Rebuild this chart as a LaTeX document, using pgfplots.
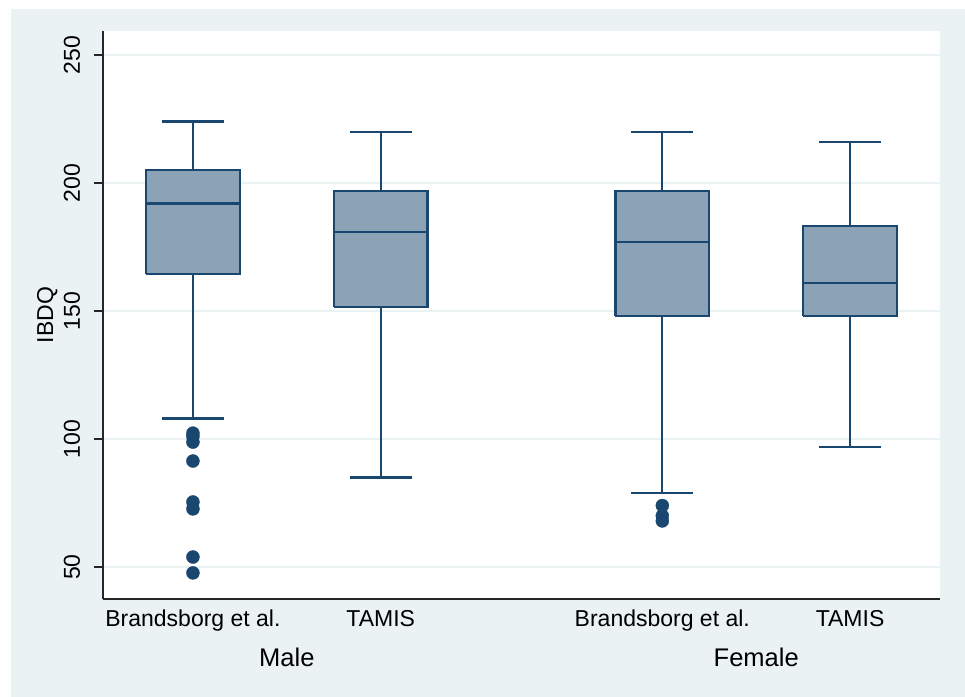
\documentclass[border=0pt]{standalone}
\usepackage{fontspec}
\setmainfont{Liberation Sans}
\usepackage{pgfplots}
\pgfplotsset{compat=1.18}

\definecolor{statanavy}{RGB}{26,71,111}
\definecolor{boxfill}{RGB}{140,163,183}
\definecolor{bgblue}{RGB}{234,242,243}

\newcommand{\lblfont}{\fontsize{23bp}{27bp}\selectfont}
\newcommand{\grpfont}{\fontsize{25.5bp}{29bp}\selectfont}

\pgfplotsset{
  boxbody/.style={draw=statanavy, fill=boxfill, line width=2.3bp, mark=none},
  boxline/.style={draw=statanavy, line width=2.3bp, mark=none},
  outlier/.style={only marks, mark=*, mark size=6.5bp,
    mark options={fill=statanavy, draw=statanavy}},
}

\begin{document}
\begin{tikzpicture}
% graph region background
\fill[white] (-103bp,-98bp) rectangle (862bp,599bp);
\fill[bgblue] (-92bp,-98bp) rectangle (862bp,590bp);
\begin{axis}[
  scale only axis,
  width=837bp, height=568bp,
  xmin=0.521, xmax=4.979,
  ymin=37.5, ymax=259.4,
  axis background/.style={fill=white},
  axis x line*=bottom, axis y line*=left,
  axis line style={line width=1.4bp, color=black!85},
  xtick={1,2,3.5,4.5},
  xticklabels={Brandsborg et al., TAMIS, Brandsborg et al., TAMIS},
  x tick style={draw=none},
  ytick={50,100,150,200,250},
  tick align=outside, major tick length=9bp,
  y tick style={line width=1.4bp, color=black!85},
  ymajorgrids,
  grid style={line width=1.5bp, color=bgblue},
  /pgf/number format/assume math mode=true,
  tick label style={font=\lblfont},
  xticklabel style={anchor=base, yshift=-18bp, inner sep=0pt},
  yticklabel style={xshift=-14bp, rotate=90, anchor=base, inner sep=0pt},
  ylabel={IBDQ},
  ylabel style={font=\lblfont, yshift=3bp},
  clip=false,
]
% Male, Brandsborg et al.: whiskers 108/224, quartiles 164.5/205, median 192
\addplot[boxline] coordinates {(1,205) (1,224)};
\addplot[boxline] coordinates {(0.835,224) (1.165,224)};
\addplot[boxline] coordinates {(1,164.5) (1,108)};
\addplot[boxline] coordinates {(0.835,108) (1.165,108)};
\addplot[boxbody] coordinates {(0.75,164.5) (1.25,164.5) (1.25,205) (0.75,205) (0.75,164.5)};
\addplot[boxline] coordinates {(0.75,192) (1.25,192)};
% Male, TAMIS: whiskers 85/220, quartiles 151.5/197, median 181
\addplot[boxline] coordinates {(2,197) (2,220)};
\addplot[boxline] coordinates {(1.835,220) (2.165,220)};
\addplot[boxline] coordinates {(2,151.5) (2,85)};
\addplot[boxline] coordinates {(1.835,85) (2.165,85)};
\addplot[boxbody] coordinates {(1.75,151.5) (2.25,151.5) (2.25,197) (1.75,197) (1.75,151.5)};
\addplot[boxline] coordinates {(1.75,181) (2.25,181)};
% Female, Brandsborg et al.: whiskers 79/220, quartiles 148/197, median 177
\addplot[boxline] coordinates {(3.5,197) (3.5,220)};
\addplot[boxline] coordinates {(3.335,220) (3.665,220)};
\addplot[boxline] coordinates {(3.5,148) (3.5,79)};
\addplot[boxline] coordinates {(3.335,79) (3.665,79)};
\addplot[boxbody] coordinates {(3.25,148) (3.75,148) (3.75,197) (3.25,197) (3.25,148)};
\addplot[boxline] coordinates {(3.25,177) (3.75,177)};
% Female, TAMIS: whiskers 97/216, quartiles 148/183.3, median 161
\addplot[boxline] coordinates {(4.5,183.3) (4.5,216)};
\addplot[boxline] coordinates {(4.335,216) (4.665,216)};
\addplot[boxline] coordinates {(4.5,148) (4.5,97)};
\addplot[boxline] coordinates {(4.335,97) (4.665,97)};
\addplot[boxbody] coordinates {(4.25,148) (4.75,148) (4.75,183.3) (4.25,183.3) (4.25,148)};
\addplot[boxline] coordinates {(4.25,161) (4.75,161)};
% outside values
\addplot[outlier] coordinates {(1,102.3) (1,101) (1,98.8) (1,91.4) (1,75.4) (1,72.7) (1,53.9) (1,47.7)};
\addplot[outlier] coordinates {(3.5,74) (3.5,70) (3.5,68)};
% group labels
\node[anchor=base, font=\grpfont, yshift=-67bp] at (axis cs:1.5,37.5) {Male};
\node[anchor=base, font=\grpfont, yshift=-67bp] at (axis cs:4,37.5) {Female};
\end{axis}
\end{tikzpicture}
\end{document}
